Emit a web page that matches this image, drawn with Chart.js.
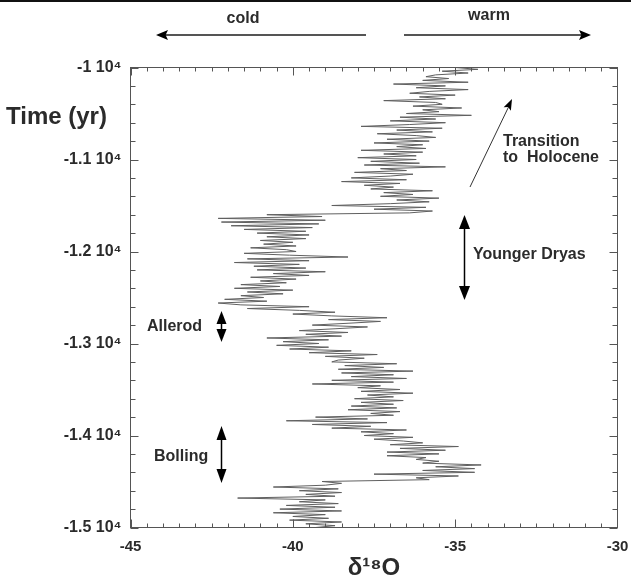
<!DOCTYPE html>
<html><head><meta charset="utf-8">
<script src="https://cdn.jsdelivr.net/npm/chart.js@4/dist/chart.umd.min.js"></script>
<style>html,body{margin:0;padding:0;background:#fff;overflow:hidden}canvas{display:block}</style>
</head><body>
<canvas id="c" width="631" height="583"></canvas>
<script>
// Time (yr) of each sample
const times = [
-10000,-10020,-10040,-10060,-10080,-10100,-10120,-10140,-10160,-10180,
-10200,-10220,-10240,-10260,-10280,-10300,-10320,-10340,-10360,-10380,
-10400,-10420,-10440,-10460,-10480,-10500,-10520,-10540,-10560,-10580,
-10600,-10620,-10640,-10660,-10680,-10700,-10720,-10740,-10760,-10780,
-10800,-10820,-10840,-10860,-10880,-10900,-10920,-10940,-10960,-10980,
-11000,-11020,-11040,-11060,-11080,-11100,-11120,-11140,-11160,-11180,
-11200,-11220,-11240,-11260,-11280,-11300,-11320,-11340,-11360,-11380,
-11400,-11420,-11440,-11460,-11480,-11500,-11520,-11540,-11560,-11580,
-11600,-11620,-11640,-11660,-11680,-11700,-11720,-11740,-11760,-11780,
-11800,-11820,-11840,-11860,-11880,-11900,-11920,-11940,-11960,-11980,
-12000,-12020,-12040,-12060,-12080,-12100,-12120,-12140,-12160,-12180,
-12200,-12220,-12240,-12260,-12280,-12300,-12320,-12340,-12360,-12380,
-12400,-12420,-12440,-12460,-12480,-12500,-12520,-12540,-12560,-12580,
-12600,-12620,-12640,-12660,-12680,-12700,-12720,-12740,-12760,-12780,
-12800,-12820,-12840,-12860,-12880,-12900,-12920,-12940,-12960,-12980,
-13000,-13020,-13040,-13060,-13080,-13100,-13120,-13140,-13160,-13180,
-13200,-13220,-13240,-13260,-13280,-13300,-13320,-13340,-13360,-13380,
-13400,-13420,-13440,-13460,-13480,-13500,-13520,-13540,-13560,-13580,
-13600,-13620,-13640,-13660,-13680,-13700,-13720,-13740,-13760,-13780,
-13800,-13820,-13840,-13860,-13880,-13900,-13920,-13940,-13960,-13980,
-14000,-14020,-14040,-14060,-14080,-14100,-14120,-14140,-14160,-14180,
-14200,-14220,-14240,-14260,-14280,-14300,-14320,-14340,-14360,-14380,
-14400,-14420,-14440,-14460,-14480,-14500,-14520,-14540,-14560,-14580,
-14600,-14620,-14640,-14660,-14680,-14700,-14720,-14740,-14760,-14780,
-14800,-14820,-14840,-14860,-14880,-14900,-14920,-14940,-14960,-14980,
-15000];

// delta 18O values
const d18O = [
-35.0,-34.3,-35.4,-34.6,-35.6, -35.9,-35.2,-36.0,-34.6,-36.9,
-35.3,-36.2,-34.6,-35.8,-36.4, -35.0,-36.1,-35.3,-37.2,-35.6,
-35.4,-36.3,-34.8,-36.0,-35.5, -36.5,-34.5,-36.7,-35.6,-37.0,
-35.3,-36.4,-37.9,-35.4,-36.8, -35.7,-37.4,-36.2,-35.6,-37.1,
-35.8,-37.5,-36.0,-36.8,-35.9, -37.9,-36.0,-37.2,-36.2,-38.0,
-36.2,-37.6,-36.1,-37.8,-35.3, -37.3,-36.5,-38.1,-36.3,-37.0,
-38.2,-36.5,-38.5,-36.7,-37.8, -36.9,-37.6,-35.7,-37.2,-36.3,
-37.3,-35.5,-36.8,-35.8,-37.0, -38.8,-35.9,-37.5,-35.7,-36.4,
-40.8,-39.1,-42.3,-39.0,-42.2, -39.2,-41.9,-39.4,-41.5,-39.6,
-41.1,-39.5,-40.8,-39.6,-41.0, -40.0,-40.9,-39.9,-41.3,-40.2,
-39.9,-41.5,-40.1,-38.3,-41.4, -39.5,-41.8,-39.8,-41.2,-39.6,
-41.1,-39.0,-40.6,-39.5,-41.3, -39.9,-41.0,-40.2,-41.6,-40.4,
-41.8,-40.0,-41.4,-40.3,-41.6, -40.9,-42.1,-40.8,-42.3,-41.6,
-39.5,-41.4,-39.8,-38.7,-40.0, -38.8,-37.1,-38.9,-37.3,-38.3,
-39.4,-37.7,-38.7,-39.8,-38.3, -39.6,-38.5,-40.8,-38.9,-40.3,
-39.2,-40.5,-38.9,-40.1,-38.2, -39.5,-37.4,-39.0,-37.8,-38.6,
-38.8,-36.8,-38.4,-37.2,-38.6, -36.3,-38.5,-36.9,-38.2,-36.5,
-38.8,-36.9,-39.4,-37.3,-38.0, -36.7,-37.9,-36.3,-37.7,-36.9,
-38.1,-36.6,-37.9,-36.9,-38.2, -36.8,-38.3,-36.7,-37.6,-36.9,
-39.3,-37.7,-40.2,-37.1,-39.4, -37.6,-38.8,-36.5,-37.9,-36.9,
-37.8,-36.3,-37.5,-36.6,-36.0, -37.0,-34.9,-36.7,-35.3,-37.1,
-35.5,-37.1,-35.9,-36.2,-35.5, -36.0,-34.2,-35.6,-34.4,-36.0,
-34.4,-37.5,-34.9,-36.2,-35.8, -39.1,-38.5,-39.0,-40.6,-38.6,
-39.8,-38.5,-39.6,-38.7,-41.7, -39.0,-39.8,-38.6,-40.2,-38.7,
-40.4,-38.5,-40.6,-39.0,-40.0, -38.9,-40.1,-38.5,-39.6,-38.7,
-39.3];

const xTickValues = [-45, -40, -35, -30];
const xTickLabels = ['-45', '-40', '-35', '-30'];
const yTickValues = [-15000, -14000, -13000, -12000, -11000, -10000];
const yTickLabels = ['-1.5 10\u2074', '-1.4 10\u2074', '-1.3 10\u2074', '-1.2 10\u2074', '-1.1 10\u2074', '-1 10\u2074'];
const xTitle = '\u03b4\u00b9\u2078O';
const yTitle = 'Time (yr)';

const FONT = '"Liberation Sans", Arial, Helvetica, sans-serif';
const TXT = '#2b2b2b';

function head(ctx, tx, ty, ang, len, hw) {
  ctx.save();
  ctx.translate(tx, ty); ctx.rotate(ang);
  ctx.beginPath();
  ctx.moveTo(0, 0);
  ctx.lineTo(-len, -hw);
  ctx.lineTo(-len * 0.8, 0);
  ctx.lineTo(-len, hw);
  ctx.closePath();
  ctx.fill();
  ctx.restore();
}
function vArrow(ctx, x, y1, y2, len, hw, lw) {
  ctx.save();
  ctx.strokeStyle = '#000'; ctx.fillStyle = '#000'; ctx.lineWidth = lw;
  ctx.beginPath(); ctx.moveTo(x, y1 + len * 0.8); ctx.lineTo(x, y2 - len * 0.8); ctx.stroke();
  ctx.beginPath(); ctx.moveTo(x, y1); ctx.lineTo(x - hw, y1 + len); ctx.lineTo(x + hw, y1 + len); ctx.closePath(); ctx.fill();
  ctx.beginPath(); ctx.moveTo(x, y2); ctx.lineTo(x - hw, y2 - len); ctx.lineTo(x + hw, y2 - len); ctx.closePath(); ctx.fill();
  ctx.restore();
}

const decor = {
  id: 'decor',
  afterDraw(chart) {
    const ctx = chart.ctx;
    const a = chart.chartArea;
    const xs = chart.scales.x, ys = chart.scales.y;
    ctx.save();
    // top border line of the image
    ctx.fillStyle = '#111';
    ctx.fillRect(0, 0, 631, 2);
    // frame
    ctx.strokeStyle = '#555';
    ctx.lineWidth = 1;
    ctx.strokeRect(a.left, a.top, a.right - a.left, a.bottom - a.top);
    // ticks (inward) on all four sides
    ctx.beginPath();
    for (let v = -45; v <= -30.001; v += 0.5) {
      const major = Math.abs(v - Math.round(v / 5) * 5) < 1e-6;
      const L = major ? 8 : 4;
      const px = Math.round(xs.getPixelForValue(v)) + 0.5;
      ctx.moveTo(px, a.bottom); ctx.lineTo(px, a.bottom - L);
      ctx.moveTo(px, a.top); ctx.lineTo(px, a.top + L);
    }
    for (let v = -15000; v <= -10000; v += 200) {
      const major = v % 1000 === 0;
      const L = major ? 8 : 5;
      const py = Math.round(ys.getPixelForValue(v)) + 0.5;
      ctx.moveTo(a.left, py); ctx.lineTo(a.left + L, py);
      ctx.moveTo(a.right, py); ctx.lineTo(a.right - L, py);
    }
    ctx.stroke();

    // Y title
    ctx.fillStyle = TXT;
    ctx.font = 'bold 24px ' + FONT;
    ctx.textAlign = 'left'; ctx.textBaseline = 'alphabetic';
    ctx.fillText(yTitle, 6, 124);

    // cold / warm
    ctx.font = 'bold 16px ' + FONT;
    ctx.textAlign = 'center';
    ctx.fillText('cold', 243, 23);
    ctx.fillText('warm', 489, 20);
    ctx.strokeStyle = '#555'; ctx.fillStyle = '#000'; ctx.lineWidth = 2;
    ctx.beginPath(); ctx.moveTo(366, 35); ctx.lineTo(163, 35); ctx.stroke();
    head(ctx, 156, 35, Math.PI, 12, 5);
    ctx.beginPath(); ctx.moveTo(404, 35); ctx.lineTo(584, 35); ctx.stroke();
    head(ctx, 591, 35, 0, 12, 5);

    // Transition to Holocene
    ctx.fillStyle = TXT;
    ctx.textAlign = 'left';
    ctx.fillText('Transition', 503, 146);
    ctx.fillText('to  Holocene', 503, 162);
    ctx.strokeStyle = '#333'; ctx.lineWidth = 1;
    ctx.beginPath(); ctx.moveTo(470, 187); ctx.lineTo(509, 106); ctx.stroke();
    ctx.fillStyle = '#000';
    head(ctx, 512, 99, Math.atan2(99 - 187, 512 - 470), 11, 4);

    // Younger Dryas
    vArrow(ctx, 464.5, 215, 300, 14, 5.5, 1.5);
    ctx.fillStyle = TXT;
    ctx.fillText('Younger Dryas', 473, 259);

    // Allerod
    vArrow(ctx, 221.5, 311, 342, 13, 5, 1.5);
    ctx.fillStyle = TXT;
    ctx.fillText('Allerod', 147, 331);

    // Bolling
    vArrow(ctx, 221.5, 426, 483, 14, 5, 1.5);
    ctx.fillStyle = TXT;
    ctx.fillText('Bolling', 154, 461);
    ctx.restore();
  }
};

new Chart(document.getElementById('c'), {
  type: 'scatter',
  data: {
    datasets: [{
      data: times.map((t, i) => ({ x: d18O[i], y: t })),
      showLine: true,
      borderColor: '#606060',
      borderWidth: 1,
      pointRadius: 0,
      tension: 0
    }]
  },
  options: {
    responsive: false,
    animation: false,
    devicePixelRatio: 1,
    layout: { padding: { left: 0, top: 67.5, right: 13.5, bottom: 0 } },
    plugins: { legend: { display: false }, tooltip: { enabled: false }, title: { display: false } },
    scales: {
      x: {
        type: 'linear', min: -45, max: -30,
        afterBuildTicks: s => { s.ticks = xTickValues.map(v => ({ value: v })); },
        afterFit: s => { s.height = 55.5; s.paddingLeft = 0; s.paddingRight = 0; },
        grid: { display: false, drawTicks: false },
        border: { display: false },
        ticks: {
          padding: 10, color: TXT, maxRotation: 0, autoSkip: false,
          font: { family: FONT, size: 15, weight: 'bold' },
          callback: v => xTickLabels[xTickValues.indexOf(v)]
        },
        title: {
          display: true, text: xTitle, color: TXT, padding: 0,
          font: { family: FONT, size: 24, weight: 'bold' }
        }
      },
      y: {
        type: 'linear', min: -15000, max: -10000,
        afterBuildTicks: s => { s.ticks = yTickValues.map(v => ({ value: v })); },
        afterFit: s => { s.width = 130.5; s.paddingTop = 0; s.paddingBottom = 0; },
        grid: { display: false, drawTicks: false },
        border: { display: false },
        ticks: {
          padding: 9, color: TXT, autoSkip: false,
          font: { family: FONT, size: 16, weight: 'bold' },
          callback: v => yTickLabels[yTickValues.indexOf(v)]
        }
      }
    }
  },
  plugins: [decor]
});
</script>
</body></html>
